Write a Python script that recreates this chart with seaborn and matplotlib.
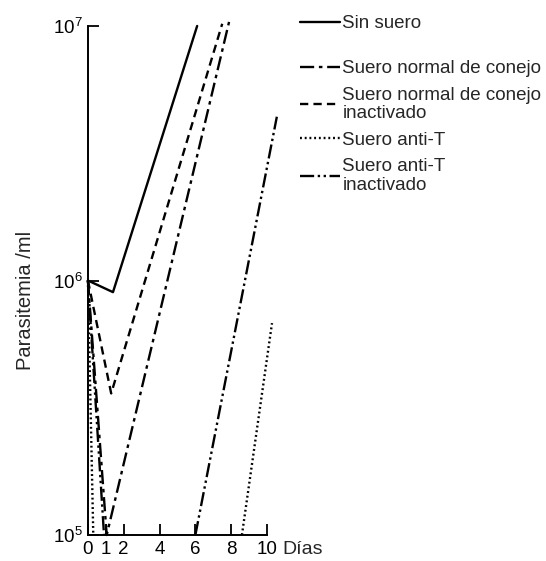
import numpy as np
import pandas as pd
import seaborn as sns
import matplotlib.pyplot as plt

# valores (dias, parasitos/ml)
series = ["Sin suero", "Suero normal de conejo", "Suero normal de conejo\ninactivado",
          "Suero anti-T", "Suero anti-T\ninactivado"]

sin_suero_x = [0, 1.4, 6.1]
sin_suero_y = [1e6, 9e5, 1e7]
normal_x = [0, 1.05, 7.9]
normal_y = [1e6, 1e5, 1.05e7]
normal_inact_x = [0, 1.3, 7.5]
normal_inact_y = [1e6, 3.6e5, 1.02e7]
antiT_x1 = [0, 0.3]
antiT_y1 = [1e6, 1e5]
antiT_x2 = [8.6, 10.28]
antiT_y2 = [1e5, 6.8e5]
antiT_inact_x1 = [0, 0.9]
antiT_inact_y1 = [1e6, 1e5]
antiT_inact_x2 = [6.0, 10.55]
antiT_inact_y2 = [1e5, 4.4e6]

x_ticks = [0, 1, 2, 4, 6, 8, 10]
y_ticks = [1e5, 1e6, 1e7]

tramos = [
    (series[0], 0, sin_suero_x, sin_suero_y),
    (series[1], 1, normal_x, normal_y),
    (series[2], 2, normal_inact_x, normal_inact_y),
    (series[3], 3, antiT_x1, antiT_y1),
    (series[3], 4, antiT_x2, antiT_y2),
    (series[4], 5, antiT_inact_x1, antiT_inact_y1),
    (series[4], 6, antiT_inact_x2, antiT_inact_y2),
]
rows = []
for s, u, xs, ys in tramos:
    for x, y in zip(xs, ys):
        rows.append({"serie": s, "tramo": u, "dia": x, "par": y})
df = pd.DataFrame(rows)

sns.set_style("ticks")
plt.rcParams['font.family'] = ['Liberation Sans', 'DejaVu Sans']
plt.rcParams['mathtext.fontset'] = 'custom'
plt.rcParams['mathtext.rm'] = 'Liberation Sans'

dashes = {
    series[0]: "",
    series[1]: (6, 2, 1.5, 2),
    series[2]: (3.5, 2.2),
    series[3]: (0.8, 1.2),
    series[4]: (6, 1.5, 1, 1.5, 1, 1.5),
}

fig = plt.figure(figsize=(5.46, 5.61), dpi=100)
ax = fig.add_axes([0.161, 0.0463, 0.328, 0.9074])
sns.lineplot(data=df, x="dia", y="par", style="serie", units="tramo", estimator=None,
             sort=False, dashes=dashes, style_order=series, color="black",
             linewidth=1.7, clip_on=False, ax=ax)
ax.set_yscale("log")
ax.set_xlim(0, 10)
ax.set_ylim(1e5, 1e7)
ax.set_xticks(x_ticks)
ax.set_xticklabels([str(t) for t in x_ticks])
ax.set_yticks(y_ticks)
ax.yaxis.set_minor_locator(plt.NullLocator())
ax.tick_params(direction="in", length=8, width=1.3, labelsize=13.5, colors="black", pad=4)
sns.despine(ax=ax)
for sp in ["left", "bottom"]:
    ax.spines[sp].set_linewidth(1.4)
    ax.spines[sp].set_color("black")

ax.set_xlabel("")
ax.set_ylabel("Parasitemia /ml", fontsize=14.5)
ax.yaxis.set_label_coords(-0.296, 0.46)
ax.text(1.085, -0.012, "Días", transform=ax.transAxes, fontsize=14, va="top", ha="left")

handles, labels = ax.get_legend_handles_labels()
ax.get_legend().remove()
leg_kw = dict(loc="upper left", bbox_transform=fig.transFigure, frameon=False,
              fontsize=13.5, handlelength=2.15, handletextpad=0.12, borderpad=0,
              borderaxespad=0)
leg1 = fig.legend(handles[:1], labels[:1], bbox_to_anchor=(0.549, 0.973), **leg_kw)
leg2 = fig.legend(handles[1:], labels[1:], bbox_to_anchor=(0.549, 0.893),
                  labelspacing=0.5, **leg_kw)
for leg in (leg1, leg2):
    for t in leg.get_texts():
        t.set_linespacing(1.12)

fig.savefig("out.png", dpi=100, facecolor="white")
